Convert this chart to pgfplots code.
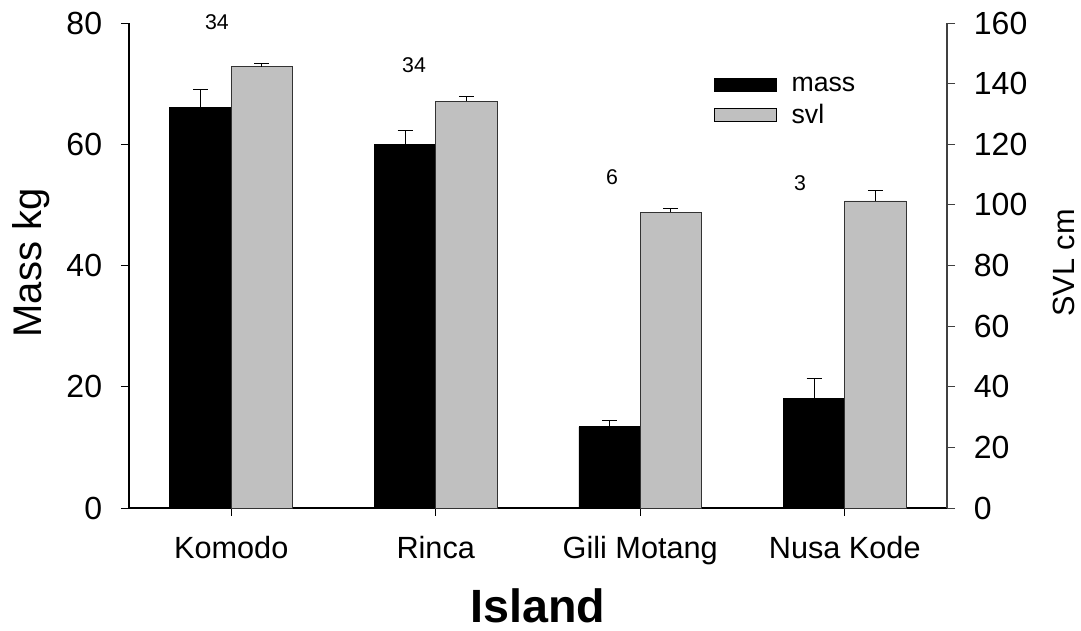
\documentclass[border=0pt]{standalone}
\usepackage{pgfplots}
\usepackage{pgfplotstable}
\pgfplotsset{compat=1.18}
\usepackage{fontspec}
\setmainfont{Liberation Sans}
\definecolor{barg}{RGB}{192,192,192}
\pgfplotsset{legimg/.style={legend image code/.code={\draw[##1] (0pt,-4.9pt) rectangle (46.5pt,4.9pt);}}}

% x = bar centre (category index -/+ half bar width)
\pgfplotstableread{
x y e
-0.15 66.0 3.0
0.85 60.0 2.2
1.85 13.4 1.1
2.85 18.1 3.3
}\massdata
\pgfplotstableread{
x y e
0.15 145.6 1.1
1.15 134.2 1.5
2.15 97.6 1.3
3.15 101.3 3.3
}\svldata

\begin{document}
\begin{tikzpicture}
\path[use as bounding box] (-96.75pt,-92.25pt) rectangle (714pt,381pt);
\begin{axis}[
  at={(0pt,0pt)}, anchor=south west,
  scale only axis, width=613.5pt, height=363.75pt,
  xmin=-0.5, xmax=3.5, ymin=0, ymax=80,
  axis x line*=bottom, axis y line*=left,
  axis line style={line width=0.8pt, black},
  xtick={0,1,2,3},
  xticklabels={Komodo,Rinca,Gili Motang,Nusa Kode},
  ytick={0,20,...,80},
  tick align=outside, major tick length=6pt,
  tick style={line width=0.6pt, black},
  /pgf/number format/assume math mode=true,
  yticklabel style={font=\fontsize{24}{28}\selectfont, inner sep=0pt, anchor=east, xshift=-14pt},
  xticklabel style={font=\fontsize{23}{27}\selectfont, inner sep=0pt, anchor=base, yshift=-31.5pt},
  xlabel={\textbf{Island}},
  xlabel style={font=\fontsize{35}{40}\selectfont, at={(rel axis cs:0.5,0)}, anchor=base, yshift=-85.5pt},
  ylabel={Mass kg},
  ylabel style={font=\fontsize{30}{34}\selectfont, inner sep=0pt, at={(rel axis cs:-0.1064,0.505)}, anchor=base},
  clip=false,
]
\addplot[ybar, bar width=0.3, bar shift=0, fill=black, draw=black, line width=0.6pt,
  error bars/.cd, y dir=plus, y explicit,
  error bar style={line width=0.75pt, black},
  error mark options={rotate=90, line width=0.75pt, black, mark size=5.6pt}]
  table[x=x, y=y, y error=e] {\massdata};
\node[font=\fontsize{16}{19}\selectfont, anchor=base] at (axis cs:-0.070,79.0) {34};
\node[font=\fontsize{16}{19}\selectfont, anchor=base] at (axis cs:0.894,71.9) {34};
\node[font=\fontsize{16}{19}\selectfont, anchor=base] at (axis cs:1.862,53.3) {6};
\node[font=\fontsize{16}{19}\selectfont, anchor=base] at (axis cs:2.781,52.3) {3};
\end{axis}
\begin{axis}[
  at={(0pt,0pt)}, anchor=south west,
  scale only axis, width=613.5pt, height=363.75pt,
  xmin=-0.5, xmax=3.5, ymin=0, ymax=160,
  axis x line=none, axis y line*=right,
  axis line style={line width=0.8pt, black!75},
  ytick={0,20,...,160},
  tick align=outside, major tick length=6pt,
  tick style={line width=0.6pt, black!75},
  /pgf/number format/assume math mode=true,
  yticklabel style={font=\fontsize{24}{28}\selectfont, inner sep=0pt, anchor=west, xshift=14pt},
  ylabel={SVL cm},
  ylabel style={font=\fontsize{23}{27}\selectfont, inner sep=0pt, at={(rel axis cs:1.1553,0.505)}, anchor=base},
  legend style={at={(rel axis cs:0.715,0.895)}, anchor=north west, draw=none, fill=none,
    inner sep=0pt, font=\fontsize{20}{24}\selectfont, row sep=4pt, column sep=9pt,
    nodes={inner sep=2pt}},
  legend cell align=left,
  clip=false,
]
\addlegendimage{legimg, fill=black, draw=black}
\addlegendentry{mass}
\addlegendimage{legimg, fill=barg, draw=black, line width=0.6pt}
\addlegendentry{svl}
\addplot[ybar, bar width=0.3, bar shift=0, fill=barg, draw=black!80, line width=0.6pt, forget plot,
  error bars/.cd, y dir=plus, y explicit,
  error bar style={line width=0.75pt, black},
  error mark options={rotate=90, line width=0.75pt, black, mark size=5.6pt}]
  table[x=x, y=y, y error=e] {\svldata};
\end{axis}
\end{tikzpicture}
\end{document}
